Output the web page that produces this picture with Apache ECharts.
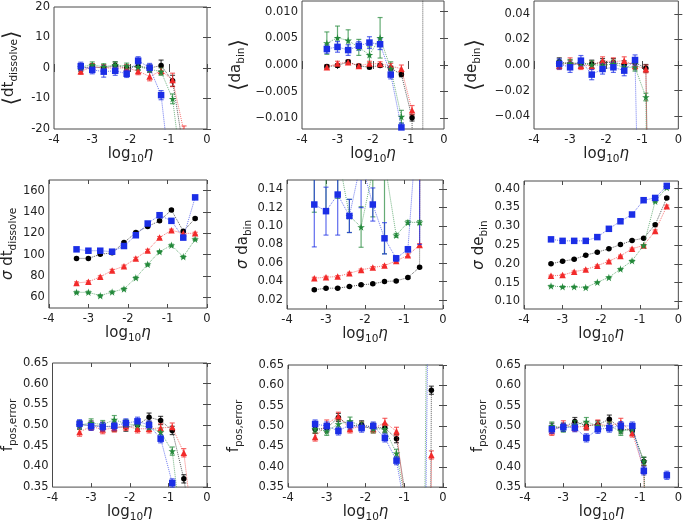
<!DOCTYPE html>
<html><head><meta charset="utf-8">
<script src="https://cdn.jsdelivr.net/npm/echarts@6/dist/echarts.min.js"></script>
<style>html,body{margin:0;padding:0;background:#fff}#c{width:685px;height:524px}</style>
</head><body><div id="c"></div>
<script>
// x positions (log10 eta)
const etaLog = [-3.3, -3.0, -2.7, -2.4, -2.1, -1.8, -1.5, -1.2, -0.9, -0.6, -0.3];
const xTicks = [-4, -3, -2, -1, 0];

// Panel 1: <dt_dissolve>
const dtTicks = [-20, -10, 0, 10, 20];
const dtBlack = [-0.1, 0.4, 0.0, 0.8, 0.0, 0.6, 0.0, 0.8, -4.2, -28, null];
const dtBlackErr = [1.0, 1.0, 1.0, 1.2, 1.0, 1.2, 1.0, 1.8, 1.8, 2, null];
const dtRed = [-1.1, 0.4, 0.0, 0.0, 0.0, -1.0, -2.8, -0.9, -3.9, -21, null];
const dtRedErr = [1.0, 1.0, 1.0, 1.0, 1.0, 1.2, 1.4, 1.2, 2.2, 2, null];
const dtGreen = [0.4, 1.0, 0.4, 1.0, 0.6, 0.4, -0.4, -1.2, -10.1, -40, null];
const dtGreenErr = [1.0, 1.0, 1.0, 1.0, 1.0, 1.2, 1.0, 1.2, 1.6, 2, null];
const dtBlue = [0.6, -0.6, -1.2, -0.9, -1.9, 2.4, 0.1, -8.9, -42, null, null];
const dtBlueErr = [1.3, 1.3, 1.8, 1.5, 1.2, 1.3, 1.4, 1.5, 2, null, null];

// Panel 2: <da_bin>
const daTicks = [-0.010, -0.005, 0.000, 0.005, 0.010];
const daBlack = [-0.0003, -0.0001, 0.0006, -0.0002, -0.0004, -0.0001, -0.0006, -0.0018, -0.0099, -0.5, 50];
const daBlackErr = [0.0003, 0.0003, 0.0003, 0.0003, 0.0003, 0.0003, 0.0004, 0.0004, 0.0006, null, null];
const daRed = [-0.0004, 0.0003, 0.0005, -0.0002, 0.0003, 0.0002, -0.0002, -0.0007, -0.0085, null, null];
const daRedErr = [0.0004, 0.0004, 0.0004, 0.0004, 0.0004, 0.0004, 0.0005, 0.0007, 0.0009, null, null];
const daGreen = [0.0041, 0.0051, 0.0046, 0.0033, 0.0019, 0.0051, -0.0007, -0.0097, -0.4, null, null];
const daGreenErr = [0.0021, 0.0022, 0.0020, 0.0015, 0.0015, 0.0038, 0.0013, 0.0012, 0.001, null, null];
const daBlue = [0.0030, 0.0034, 0.0028, 0.0036, 0.0042, 0.0039, -0.0018, -0.0117, -0.5, null, null];
const daBlueErr = [0.0008, 0.0010, 0.0010, 0.0008, 0.0011, 0.0010, 0.0008, 0.0008, 0.001, null, null];

// Panel 3: <de_bin>
const deTicks = [-0.04, -0.02, 0.00, 0.02, 0.04];
const deBlack = [0.0026, 0.0008, 0.0008, 0.0008, 0.0020, 0.0020, 0.0003, 0.0020, -0.0026, -0.5, null];
const deBlackErr = [0.003, 0.003, 0.003, 0.003, 0.003, 0.003, 0.003, 0.003, 0.003, 0.003, null];
const deRed = [-0.0005, 0.0026, -0.0005, -0.0005, 0.0034, 0.0026, 0.0034, -0.0005, -0.0031, -0.6, null];
const deRedErr = [0.003, 0.003, 0.003, 0.003, 0.003, 0.003, 0.003, 0.003, 0.003, 0.003, null];
const deGreen = [0.0008, 0.0013, 0.0016, 0.0003, -0.0003, 0.0008, -0.0018, -0.0018, -0.025, -0.8, null];
const deGreenErr = [0.003, 0.003, 0.003, 0.003, 0.003, 0.003, 0.003, 0.003, 0.003, 0.003, null];
const deBlue = [0.0008, -0.0018, 0.0034, -0.0075, -0.0031, -0.0018, -0.0044, 0.0039, -0.4, null, null];
const deBlueErr = [0.004, 0.004, 0.004, 0.004, 0.004, 0.004, 0.004, 0.004, 0.004, null, null];

// Panel 4: sigma dt_dissolve
const sdtTicks = [60, 80, 100, 120, 140, 160];
const sdtBlack = [96.5, 96.5, 100.3, 101.8, 111.3, 120.7, 126.4, 131.7, 141.8, 122, 133.9];
const sdtRed = [73.5, 74.5, 79.2, 85.2, 89.2, 96.5, 104, 116, 122.9, 120, 120];
const sdtGreen = [64.7, 64.7, 61.6, 65, 67.9, 78.3, 90.9, 102.8, 108.8, 98, 114.4];
const sdtBlue = [105, 103.7, 103.7, 102.8, 108.1, 118.2, 129.2, 137, 131.7, 116, 153.7];
const sdtErr = [1, 1, 1, 1, 1, 1, 1, 1, 1, 1, 1];

// Panel 5: sigma da_bin
const sdaTicks = [0.02, 0.04, 0.06, 0.08, 0.10, 0.12, 0.14];
const sdaBlack = [0.0308, 0.0326, 0.0326, 0.0344, 0.0362, 0.0373, 0.0398, 0.0405, 0.0441, 0.0553, 5];
const sdaBlackErr = [0.001, 0.001, 0.001, 0.001, 0.001, 0.001, 0.001, 0.001, 0.001, 0.001, null];
const sdaRed = [0.0434, 0.0445, 0.0452, 0.0488, 0.0524, 0.055, 0.0571, 0.0622, 0.0683, 0.0795, 5];
const sdaRedErr = [0.001, 0.001, 0.001, 0.001, 0.001, 0.001, 0.001, 0.0015, 0.0015, 0.0015, null];
const sdaGreen = [0.19, 0.19, 0.18, 0.111, 0.099, 0.16, 0.17, 0.090, 0.104, 0.104, null];
const sdaGreenErr = [0.075, 0.075, 0.05, 0.018, 0.022, 0.05, 0.1, 0.002, 0.002, 0.002, null];
const sdaBlue = [0.1234, 0.1162, 0.1342, 0.111, 0.17, 0.1234, 0.0867, 0.065, 0.0748, 0.25, null];
const sdaBlueErr = [0.046, 0.026, 0.044, 0.018, 0.05, 0.018, 0.017, 0.003, 0.003, 0.17, null];

// Panel 6: sigma de_bin
const sdeTicks = [0.10, 0.15, 0.20, 0.25, 0.30, 0.35, 0.40];
const sdeBlack = [0.200, 0.207, 0.212, 0.223, 0.231, 0.240, 0.251, 0.262, 0.268, 0.304, 0.375];
const sdeRed = [0.168, 0.170, 0.179, 0.185, 0.195, 0.207, 0.221, 0.240, 0.249, 0.287, 0.353];
const sdeGreen = [0.141, 0.139, 0.139, 0.137, 0.151, 0.164, 0.186, 0.208, 0.249, 0.366, 0.403];
const sdeBlue = [0.265, 0.261, 0.261, 0.261, 0.271, 0.293, 0.313, 0.331, 0.369, 0.375, 0.407];
const sdeErr = [0.002, 0.002, 0.002, 0.002, 0.002, 0.002, 0.002, 0.002, 0.002, 0.003, 0.003];

// Panels 7-9: f_pos,error
const fTicks = [0.35, 0.40, 0.45, 0.50, 0.55, 0.60, 0.65];
const f1Black = [0.500, 0.500, 0.497, 0.495, 0.495, 0.500, 0.519, 0.511, 0.487, 0.370, 0.2];
const f1Red = [0.483, 0.497, 0.489, 0.493, 0.497, 0.491, 0.491, 0.493, 0.495, 0.433, 0.2];
const f1Green = [0.500, 0.505, 0.501, 0.513, 0.503, 0.500, 0.495, 0.483, 0.437, 0.2, null];
const f1Blue = [0.503, 0.497, 0.496, 0.498, 0.505, 0.509, 0.500, 0.467, 0.360, 0.2, null];
const f2Black = [0.492, 0.495, 0.521, 0.500, 0.503, 0.497, 0.495, 0.469, 0.29, -5, 0.588];
const f2Red = [0.473, 0.505, 0.524, 0.493, 0.500, 0.493, 0.509, 0.487, 0.25, -3, 0.429];
const f2Green = [0.493, 0.487, 0.505, 0.512, 0.500, 0.493, 0.493, 0.433, 0.28, -1, 2];
const f2Blue = [0.505, 0.500, 0.488, 0.503, 0.495, 0.500, 0.471, 0.415, 0.25, -1, 1.5];
const f3Black = [0.497, 0.497, 0.511, 0.501, 0.503, 0.517, 0.493, 0.489, 0.413, -1, null];
const f3Red = [0.487, 0.503, 0.497, 0.500, 0.505, 0.500, 0.509, 0.483, 0.393, -1, null];
const f3Green = [0.500, 0.495, 0.503, 0.511, 0.500, 0.500, 0.487, 0.493, 0.414, -1, null];
const f3Blue = [0.492, 0.497, 0.496, 0.471, 0.492, 0.495, 0.501, 0.500, 0.390, null, 0.379];
const fErr = [0.010, 0.010, 0.010, 0.010, 0.010, 0.010, 0.010, 0.010, 0.010, 0.010, 0.010];

const FONT = 'DejaVu Sans';
const TXT = '#222';
const COL = {black: '#000000', red: '#f22a2a', green: '#23893a', blue: '#1b2ee6'};
const STAR = 'path://M50,0 L61,35 L98,35 L68,57 L79,91 L50,70 L21,91 L32,57 L2,35 L39,35 Z';
const SYM = {black: 'circle', red: 'triangle', green: STAR, blue: 'rect'};
const SSZ = {black: 5.5, red: 6.5, green: 7.5, blue: 6.5};

const rich = {
  m: {fontSize: 15, fontFamily: FONT, color: TXT, lineHeight: 16, verticalAlign: 'top'},
  i: {fontSize: 15, fontFamily: FONT, fontStyle: 'italic', color: TXT, lineHeight: 16, verticalAlign: 'top'},
  s: {fontSize: 10.5, fontFamily: FONT, color: TXT, lineHeight: 12, verticalAlign: 'top', padding: [7, 0, 0, 0]},
  b: {fontSize: 22, fontFamily: FONT, color: TXT, lineHeight: 22, verticalAlign: 'top', padding: [-1, 0, 0, 0]}
};
const xName = '{m|log}{s|10}{i|η}';

function fmtDec(d, uni) {
  return v => {
    let s = Math.abs(v).toFixed(d);
    if (v < -1e-12) s = (uni ? '\u2212' : '-') + s;
    return s;
  };
}

const panels = [
  {box: [48, 7, 207, 129], min: -20, max: 20, ticks: dtTicks, fmt: fmtDec(0, false), name: '{b|⟨}{m|dt}{s|dissolve}{b|⟩}', gap: 30,
   d: {black: [dtBlack, dtBlackErr], red: [dtRed, dtRedErr], green: [dtGreen, dtGreenErr], blue: [dtBlue, dtBlueErr]}},
  {box: [302, 1, 444, 129], min: -0.012, max: 0.012, ticks: daTicks, fmt: fmtDec(3, true), name: '{b|⟨}{m|da}{s|bin}{b|⟩}', gap: 51,
   d: {black: [daBlack, daBlackErr], red: [daRed, daRedErr], green: [daGreen, daGreenErr], blue: [daBlue, daBlueErr]}},
  {box: [534, 1, 680, 129], min: -0.05, max: 0.05, ticks: deTicks, fmt: fmtDec(2, true), name: '{b|⟨}{m|de}{s|bin}{b|⟩}', gap: 47,
   d: {black: [deBlack, deBlackErr], red: [deRed, deRedErr], green: [deGreen, deGreenErr], blue: [deBlue, deBlueErr]}},
  {box: [48, 180, 207, 308], min: 50, max: 170, ticks: sdtTicks, fmt: fmtDec(0, false), name: '{i|σ}{m| dt}{s|dissolve}', gap: 27,
   d: {black: [sdtBlack, sdtErr], red: [sdtRed, sdtErr], green: [sdtGreen, sdtErr], blue: [sdtBlue, sdtErr]}},
  {box: [287, 180, 443, 309], min: 0.01, max: 0.15, ticks: sdaTicks, fmt: fmtDec(2, false), name: '{i|σ}{m| da}{s|bin}', gap: 32,
   d: {black: [sdaBlack, sdaBlackErr], red: [sdaRed, sdaRedErr], green: [sdaGreen, sdaGreenErr], blue: [sdaBlue, sdaBlueErr]}},
  {box: [524, 181, 680, 309], min: 0.08, max: 0.42, ticks: sdeTicks, fmt: fmtDec(2, false), name: '{i|σ}{m| de}{s|bin}', gap: 36,
   d: {black: [sdeBlack, sdeErr], red: [sdeRed, sdeErr], green: [sdeGreen, sdeErr], blue: [sdeBlue, sdeErr]}},
  {box: [52, 363, 207, 490], min: 0.35, max: 0.65, ticks: fTicks, fmt: fmtDec(2, false), name: '{m|f}{s|pos,error}', gap: 34,
   d: {black: [f1Black, fErr], red: [f1Red, fErr], green: [f1Green, fErr], blue: [f1Blue, fErr]}},
  {box: [288, 365, 443, 490], min: 0.35, max: 0.65, ticks: fTicks, fmt: fmtDec(2, false), name: '{m|f}{s|pos,error}', gap: 45,
   d: {black: [f2Black, fErr], red: [f2Red, fErr], green: [f2Green, fErr], blue: [f2Blue, fErr]}},
  {box: [525, 365, 680, 490], min: 0.35, max: 0.65, ticks: fTicks, fmt: fmtDec(2, false), name: '{m|f}{s|pos,error}', gap: 38,
   d: {black: [f3Black, fErr], red: [f3Red, fErr], green: [f3Green, fErr], blue: [f3Blue, fErr]}}
];

function errRender(color) {
  return function (params, api) {
    const x = api.value(0), y = api.value(1), e = api.value(2);
    const cs = params.coordSys;
    const p1 = api.coord([x, y + e]);
    const p2 = api.coord([x, y - e]);
    const px = p1[0];
    if (px < cs.x - 1 || px > cs.x + cs.width + 1) return null;
    const top = Math.min(p1[1], p2[1]), bot = Math.max(p1[1], p2[1]);
    const y0 = Math.max(cs.y, top), y1 = Math.min(cs.y + cs.height, bot);
    if (y1 <= y0) return null;
    const st = {stroke: color, lineWidth: 1.2, opacity: 0.7};
    const ch = [{type: 'line', shape: {x1: px, y1: y0, x2: px, y2: y1}, style: st}];
    if (top >= cs.y) ch.push({type: 'line', shape: {x1: px - 2.5, y1: top, x2: px + 2.5, y2: top}, style: st});
    if (bot <= cs.y + cs.height) ch.push({type: 'line', shape: {x1: px - 2.5, y1: bot, x2: px + 2.5, y2: bot}, style: st});
    return {type: 'group', children: ch};
  };
}

const grid = [], xAxis = [], yAxis = [], series = [];
panels.forEach((p, i) => {
  const [l, t, r, b] = p.box;
  grid.push({left: l, top: t, width: r - l, height: b - t, show: true, borderColor: '#4a4a4a', borderWidth: 1, containLabel: false});
  const tickStyle = {show: true, inside: true, length: 4, lineStyle: {color: '#4a4a4a'}};
  xAxis.push({type: 'value', gridIndex: i, min: -4, max: 0, interval: 1, position: 'bottom',
    axisLine: {show: false}, splitLine: {show: false}, axisTick: tickStyle,
    axisLabel: {fontSize: 11.5, fontFamily: FONT, color: TXT, margin: 5, formatter: v => String(v)},
    name: xName, nameLocation: 'middle', nameGap: 17, nameTextStyle: {rich: rich}});
  xAxis.push({type: 'value', gridIndex: i, min: -4, max: 0, interval: 1, position: 'top',
    axisLine: {show: false}, splitLine: {show: false}, axisTick: tickStyle, axisLabel: {show: false}});
  yAxis.push({type: 'value', gridIndex: i, min: p.min, max: p.max, position: 'left',
    axisLine: {show: false}, splitLine: {show: false},
    axisTick: Object.assign({customValues: p.ticks}, tickStyle),
    axisLabel: {customValues: p.ticks, fontSize: 11.5, fontFamily: FONT, color: TXT, margin: 4, formatter: p.fmt},
    name: p.name, nameLocation: 'middle', nameRotate: 90, nameGap: p.gap, nameTextStyle: {rich: rich}});
  yAxis.push({type: 'value', gridIndex: i, min: p.min, max: p.max, position: 'right',
    axisLine: {show: false}, splitLine: {show: false},
    axisTick: Object.assign({customValues: p.ticks}, tickStyle), axisLabel: {show: false}});
  ['black', 'red', 'green', 'blue'].forEach((k, j) => {
    const vals = p.d[k][0], errs = p.d[k][1];
    series.push({type: 'line', xAxisIndex: 2 * i, yAxisIndex: 2 * i, z: 3 + j,
      data: etaLog.map((x, n) => [x, vals[n]]),
      connectNulls: false, showSymbol: true, symbol: SYM[k], symbolSize: SSZ[k],
      itemStyle: {color: COL[k]}, lineStyle: {color: COL[k], width: 1, type: 'dotted', opacity: 0.65},
      emphasis: {disabled: true}, animation: false, silent: true});
    const ed = [];
    etaLog.forEach((x, n) => { if (vals[n] != null && errs[n] != null) ed.push([x, vals[n], errs[n]]); });
    series.push({type: 'custom', xAxisIndex: 2 * i, yAxisIndex: 2 * i, z: 2 + j,
      dimensions: ['x', 'y', 'e'], encode: {x: 0, y: 1},
      data: ed, renderItem: errRender(COL[k]), animation: false, silent: true});
  });
});

const chart = echarts.init(document.getElementById('c'), null, {renderer: 'canvas'});
chart.setOption({backgroundColor: '#ffffff', animation: false, grid, xAxis, yAxis, series});
</script></body></html>
